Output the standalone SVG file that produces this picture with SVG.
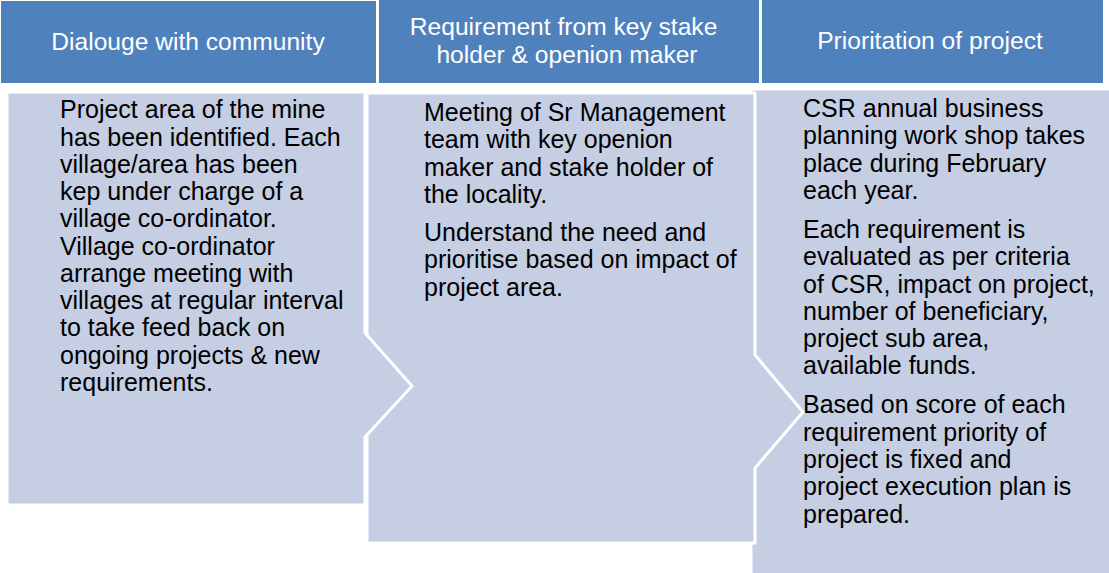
<svg xmlns="http://www.w3.org/2000/svg" width="1109" height="573" viewBox="0 0 1109 573">
  <style>
    .hdr { fill: #4F81BD; }
    .body { fill: #C5CEE2; stroke: #FFFFFF; stroke-width: 3; stroke-linejoin: miter; }
    .ht { font-family: "Liberation Sans", Arial, sans-serif; font-size: 24.6px; fill: #FFFFFF; text-anchor: middle; }
    .bt { font-family: "Liberation Sans", Arial, sans-serif; font-size: 25px; fill: #000000; }
  </style>
  <rect width="1109" height="573" fill="#FFFFFF"/>
  <g id="body3">
    <rect class="body" x="751" y="89" width="360" height="486"/>
    <text class="bt">
      <tspan x="803" y="117">CSR annual business</tspan>
      <tspan x="803" y="144">planning work shop takes</tspan>
      <tspan x="803" y="172">place during February</tspan>
      <tspan x="803" y="199">each year.</tspan>
      <tspan x="803" y="238">Each requirement is</tspan>
      <tspan x="803" y="265">evaluated as per criteria</tspan>
      <tspan x="803" y="293">of CSR, impact on project,</tspan>
      <tspan x="803" y="320">number of beneficiary,</tspan>
      <tspan x="803" y="347">project sub area,</tspan>
      <tspan x="803" y="374">available funds.</tspan>
      <tspan x="803" y="413">Based on score of each</tspan>
      <tspan x="803" y="441">requirement priority of</tspan>
      <tspan x="803" y="468">project is fixed and</tspan>
      <tspan x="803" y="495">project execution plan is</tspan>
      <tspan x="803" y="523">prepared.</tspan>
    </text>
  </g>
  <g id="body2">
    <polygon class="body" points="367,93 755,93 755,355 803,412 755,468 755,543 367,543"/>
    <text class="bt">
      <tspan x="424" y="121">Meeting of Sr Management</tspan>
      <tspan x="424" y="148">team with key openion</tspan>
      <tspan x="424" y="176">maker and stake holder of</tspan>
      <tspan x="424" y="203">the locality.</tspan>
      <tspan x="424" y="241">Understand the need and</tspan>
      <tspan x="424" y="268">prioritise based on impact of</tspan>
      <tspan x="424" y="296">project area.</tspan>
    </text>
  </g>
  <g id="body1">
    <polygon class="body" points="7,92 365,92 365,333 412,386 365,437 365,505 7,505"/>
    <text class="bt">
      <tspan x="60" y="118">Project area of the mine</tspan>
      <tspan x="60" y="146">has been identified. Each</tspan>
      <tspan x="60" y="173">village/area has been</tspan>
      <tspan x="60" y="200">kep under charge of a</tspan>
      <tspan x="60" y="227">village co-ordinator.</tspan>
      <tspan x="60" y="255">Village co-ordinator</tspan>
      <tspan x="60" y="282">arrange meeting with</tspan>
      <tspan x="60" y="309">villages at regular interval</tspan>
      <tspan x="60" y="336">to take feed back on</tspan>
      <tspan x="60" y="364">ongoing projects &amp; new</tspan>
      <tspan x="60" y="391">requirements.</tspan>
    </text>
  </g>
  <g id="header1">
    <rect class="hdr" x="1" y="1" width="375" height="82"/>
    <text class="ht" x="188" y="50">Dialouge with community</text>
  </g>
  <g id="header2">
    <rect class="hdr" x="379" y="0" width="380" height="83"/>
    <text class="ht">
      <tspan x="567" y="35">Requirement from key stake</tspan>
      <tspan x="567" y="63">holder &amp; openion maker</tspan>
    </text>
  </g>
  <g id="header3">
    <rect class="hdr" x="762" y="0" width="341" height="83"/>
    <text class="ht" x="930" y="49">Prioritation of project</text>
  </g>
  <g id="connectors"/>
</svg>
